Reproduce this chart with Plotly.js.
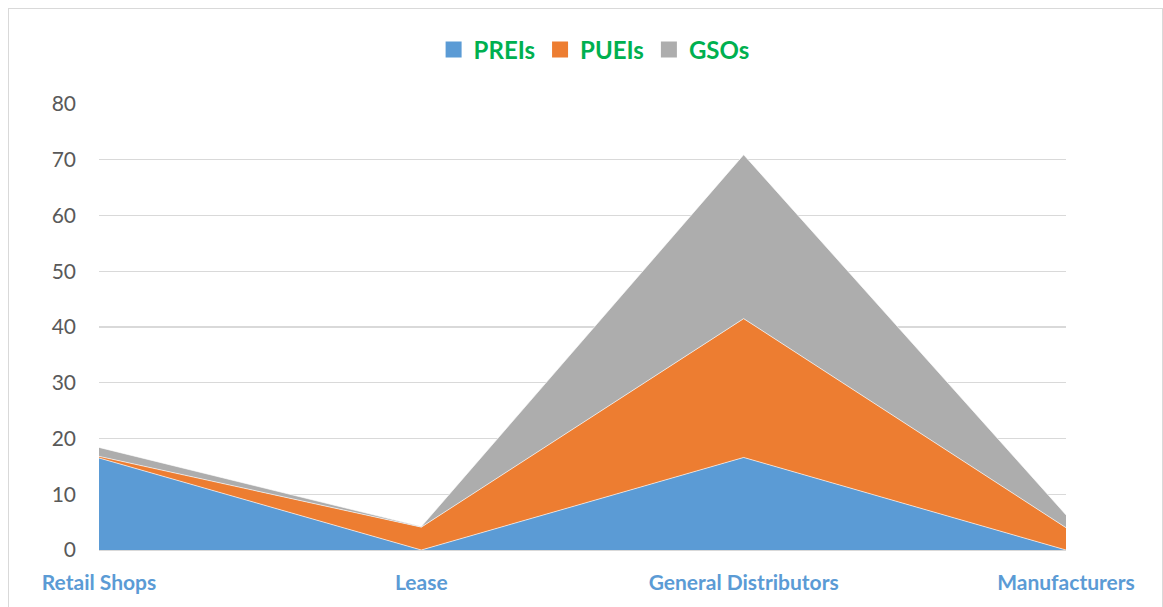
<!DOCTYPE html>
<html>
<head>
<meta charset="utf-8">
<script src="https://cdn.plot.ly/plotly-3.0.1.min.js"></script>
<style>
html,body{margin:0;padding:0;background:#fff;}
#wrap{position:relative;width:1163px;height:607px;overflow:hidden;}
#chart{width:1163px;height:607px;}
#frame{position:absolute;left:8px;top:8px;width:1153px;height:620px;border:1.5px solid #d9d9d9;pointer-events:none;}
</style>
</head>
<body>
<div id="wrap"><div id="chart"></div><div id="frame"></div></div>
<script>
const categories = ["Retail Shops", "Lease", "General Distributors", "Manufacturers"];
const preis = [16.5, 0, 16.6, 0];
const pueis = [0.3, 4.1, 24.9, 4.0];
const gsos = [1.6, 0.1, 29.4, 2.3];
const seriesNames = ["PREIs", "PUEIs", "GSOs"];
const seriesColors = ["#5B9BD5", "#ED7D31", "#ADADAD"];
const yTicks = [0, 10, 20, 30, 40, 50, 60, 70, 80];

const seriesValues = [preis, pueis, gsos];
const traces = seriesValues.map((vals, i) => ({
  type: "scatter",
  mode: "lines",
  name: seriesNames[i],
  x: categories,
  y: vals,
  stackgroup: "one",
  fillcolor: seriesColors[i],
  line: {color: "rgba(255,255,255,0.8)", width: 0.8},
  showlegend: false,
  hoverinfo: "x+y+name"
}));

// legend-only entries with square swatches
seriesNames.forEach((nm, i) => {
  traces.push({
    type: "scatter",
    mode: "markers",
    name: nm,
    x: [null],
    y: [null],
    marker: {symbol: "square", size: 16, color: seriesColors[i], line: {width: 0}},
    showlegend: true,
    hoverinfo: "skip"
  });
});

const layout = {
  width: 1163,
  height: 607,
  margin: {l: 99, r: 97, t: 104, b: 57},
  paper_bgcolor: "#fff",
  plot_bgcolor: "#fff",
  showlegend: true,
  legend: {
    orientation: "h",
    x: 0.512, xanchor: "center",
    y: 1 - 50 / 607, yanchor: "middle",
    yref: "container",
    font: {family: "Lato, 'Liberation Sans', sans-serif", size: 24, color: "#00B050", weight: "bold"},
    itemwidth: 30,
    traceorder: "normal"
  },
  xaxis: {
    type: "category",
    range: [0, 3],
    showgrid: false,
    zeroline: false,
    showline: false,
    ticks: "",
    ticklabelstandoff: 18,
    tickfont: {family: "Lato, 'Liberation Sans', sans-serif", size: 21, color: "#5B9BD5", weight: "bold"},
    fixedrange: true
  },
  yaxis: {
    range: [0, 80],
    tickvals: yTicks,
    ticktext: yTicks.map(String),
    showgrid: true,
    gridcolor: "#d9d9d9",
    gridwidth: 1.3,
    zeroline: true,
    zerolinecolor: "#d9d9d9",
    zerolinewidth: 2,
    showline: false,
    ticks: "",
    ticklabelstandoff: 22,
    tickfont: {family: "Lato, 'Liberation Sans', sans-serif", size: 21, color: "#595959"},
    fixedrange: true
  }
};

Plotly.newPlot("chart", traces, layout, {displayModeBar: false, staticPlot: true});
</script>
</body>
</html>
